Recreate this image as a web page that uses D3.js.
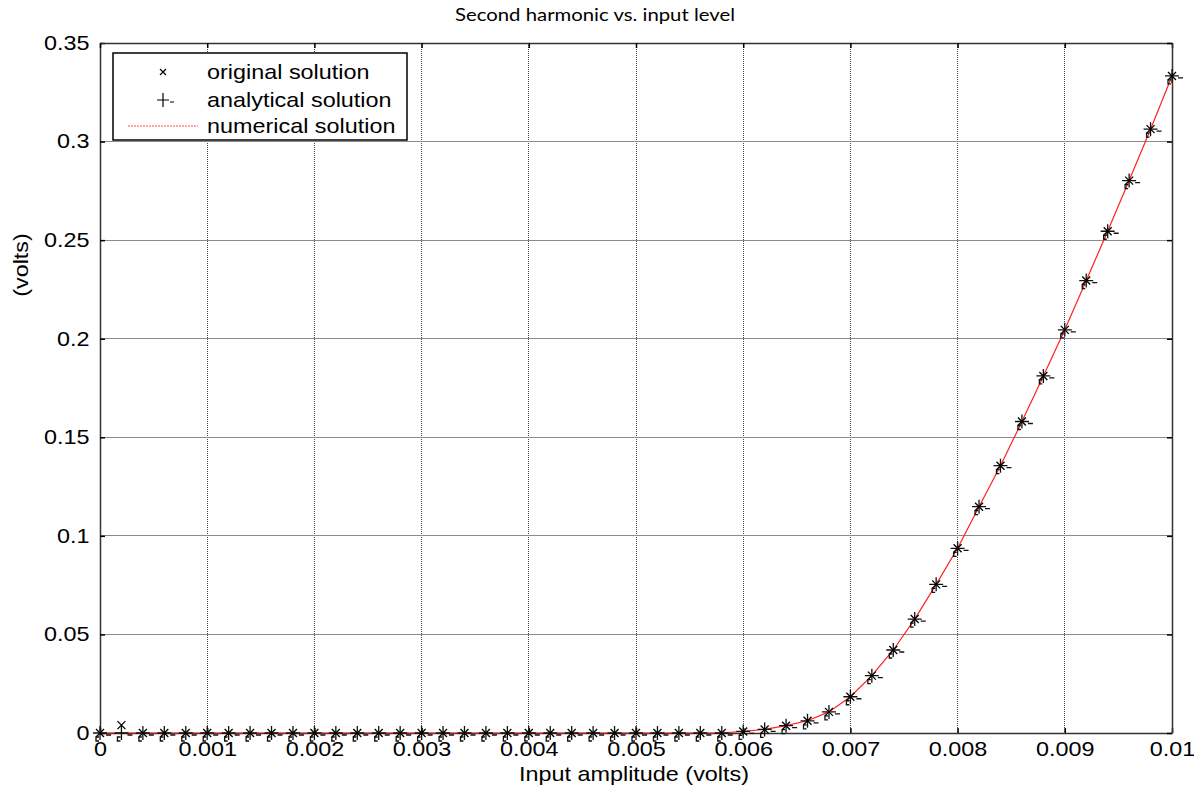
<!DOCTYPE html>
<html>
<head>
<meta charset="utf-8">
<script src="https://cdn.jsdelivr.net/npm/d3@7"></script>
<style>
  body { margin: 0; background: #fff; }
  svg { display: block; }
</style>
</head>
<body>
<svg id="chart" width="1194" height="788"></svg>
<script>
// ---- data ----
const inputAmplitude = [
  0, 0.0002, 0.0004, 0.0006, 0.0008, 0.001, 0.0012, 0.0014, 0.0016, 0.0018,
  0.002, 0.0022, 0.0024, 0.0026, 0.0028, 0.003, 0.0032, 0.0034, 0.0036, 0.0038,
  0.004, 0.0042, 0.0044, 0.0046, 0.0048, 0.005, 0.0052, 0.0054, 0.0056, 0.0058,
  0.006, 0.0062, 0.0064, 0.0066, 0.0068, 0.007, 0.0072, 0.0074, 0.0076, 0.0078,
  0.008, 0.0082, 0.0084, 0.0086, 0.0088, 0.009, 0.0092, 0.0094, 0.0096, 0.0098, 0.01
];
const analyticalSolution = [
  0, 0, 0, 0, 0, 0, 0, 0, 0, 0,
  0, 0, 0, 0, 0, 0, 0, 0, 0, 0,
  0, 0, 0, 0, 0, 0, 0, 0, 0, 0,
  0.0008, 0.0018, 0.0037, 0.0062, 0.0107, 0.0184, 0.0291, 0.0421, 0.0578, 0.0754,
  0.0937, 0.1148, 0.1356, 0.158, 0.1811, 0.2045, 0.2295, 0.2545, 0.2802, 0.3063, 0.3333
];
const originalSolution = [
  0, 0.004, 0, 0, 0, 0, 0, 0, 0, 0,
  0, 0, 0, 0, 0, 0, 0, 0, 0, 0,
  0, 0, 0, 0, 0, 0, 0, 0, 0, 0,
  0.0008, 0.0018, 0.0037, 0.0062, 0.0107, 0.0184, 0.0291, 0.0421, 0.0578, 0.0754,
  0.0937, 0.1148, 0.1356, 0.158, 0.1811, 0.2045, 0.2295, 0.2545, 0.2802, 0.3063, 0.3333
];
const numericalSolution = [
  0, 0, 0, 0, 0, 0, 0, 0, 0, 0,
  0, 0, 0, 0, 0, 0, 0, 0, 0, 0,
  0, 0, 0, 0, 0, 0, 0, 0, 0, 0,
  0.0008, 0.0018, 0.0037, 0.0062, 0.0107, 0.0184, 0.0291, 0.0421, 0.0578, 0.0754,
  0.0937, 0.1148, 0.1356, 0.158, 0.1811, 0.2045, 0.2295, 0.2545, 0.2802, 0.3063, 0.3333
];
const xTicks = [0, 0.001, 0.002, 0.003, 0.004, 0.005, 0.006, 0.007, 0.008, 0.009, 0.01];
const xTickLabels = ["0", "0.001", "0.002", "0.003", "0.004", "0.005", "0.006", "0.007", "0.008", "0.009", "0.01"];
const yTicks = [0, 0.05, 0.1, 0.15, 0.2, 0.25, 0.3, 0.35];
const yTickLabels = ["0", "0.05", "0.1", "0.15", "0.2", "0.25", "0.3", "0.35"];
const legendLabels = ["original solution", "analytical solution", "numerical solution"];
const titleText = "Second harmonic vs. input level";
const xLabelText = "Input amplitude (volts)";
const yLabelText = "(volts)";

// ---- layout ----
const svg = d3.select("#chart");
const pLeft = 100, pRight = 1172, pTop = 43, pBottom = 733;
const x = d3.scaleLinear().domain([0, 0.01]).range([pLeft, pRight]);
const y = d3.scaleLinear().domain([0, 0.35]).range([pBottom, pTop]);
const tickFont = "'Liberation Sans', Arial, sans-serif";
const fs = 20, sx = 1.17;

// grid
const g = svg.append("g");
g.selectAll(".vgrid").data(xTicks.slice(1, -1)).enter().append("line")
  .attr("x1", d => x(d)).attr("x2", d => x(d))
  .attr("y1", pTop).attr("y2", pBottom)
  .attr("stroke", "#444").attr("stroke-width", 1).attr("stroke-dasharray", "1,1")
  .attr("shape-rendering", "crispEdges");
g.selectAll(".hgrid").data(yTicks.slice(1, -1)).enter().append("line")
  .attr("x1", pLeft).attr("x2", pRight)
  .attr("y1", d => y(d)).attr("y2", d => y(d))
  .attr("stroke", "#8a8a8a").attr("stroke-width", 1)
  .attr("shape-rendering", "crispEdges");

// axes via d3
const xAxis = d3.axisBottom(x).tickValues(xTicks).tickFormat((d, i) => xTickLabels[i]).tickSizeInner(-5).tickSizeOuter(0).tickPadding(9);
const yAxis = d3.axisLeft(y).tickValues(yTicks).tickFormat((d, i) => yTickLabels[i]).tickSizeInner(-5).tickSizeOuter(0).tickPadding(9);
const xAxisTop = d3.axisTop(x).tickValues(xTicks).tickFormat("").tickSizeInner(-5).tickSizeOuter(0);
const yAxisRight = d3.axisRight(y).tickValues(yTicks).tickFormat("").tickSizeInner(-5).tickSizeOuter(0);

function styleAxis(sel) {
  sel.select(".domain").attr("stroke", "#333").attr("stroke-width", 1.5);
  sel.selectAll(".tick line").attr("stroke", "#000").attr("stroke-width", 1.5);
  sel.selectAll("text").attr("font-family", tickFont).attr("font-size", fs).attr("fill", "#000")
    .attr("transform", `scale(${sx},1)`);
}
svg.append("g").attr("transform", `translate(0,${pBottom})`).call(xAxis).call(styleAxis);
svg.append("g").attr("transform", `translate(${pLeft},0)`).call(yAxis).call(styleAxis);
svg.append("g").attr("transform", `translate(0,${pTop})`).call(xAxisTop).call(styleAxis);
svg.append("g").attr("transform", `translate(${pRight},0)`).call(yAxisRight).call(styleAxis);

// numerical line
const line = d3.line().x((d, i) => x(inputAmplitude[i])).y(d => y(d));
svg.append("path").datum(numericalSolution)
  .attr("d", line).attr("fill", "none")
  .attr("stroke", "#ff2020").attr("stroke-width", 1.2);

// markers
const xMark = "M-4,-4L4,4M-4,4L4,-4";
const plusMark = "M-7,0L7,0M0,-7L0,7M6,2L11,2M-1,4L-4,4L-4,8L-1,8";
svg.append("g").selectAll("path").data(analyticalSolution).enter().append("path")
  .attr("transform", (d, i) => `translate(${x(inputAmplitude[i])},${y(d)})`)
  .attr("d", plusMark).attr("fill", "none").attr("stroke", "#111").attr("stroke-width", 1.3);
svg.append("g").selectAll("path").data(originalSolution).enter().append("path")
  .attr("transform", (d, i) => `translate(${x(inputAmplitude[i])},${y(d)})`)
  .attr("d", xMark).attr("fill", "none").attr("stroke", "#000").attr("stroke-width", 1.3);

// legend
const lg = svg.append("g");
lg.append("rect").attr("x", 113).attr("y", 53).attr("width", 294).attr("height", 87)
  .attr("fill", "#fff").attr("stroke", "#000").attr("stroke-width", 1.5);
const rowsY = [72, 100, 126];
lg.selectAll("text").data(legendLabels).enter().append("text")
  .attr("transform", (d, i) => `translate(207,${rowsY[i]}) scale(${sx},1)`)
  .attr("dy", "0.35em")
  .attr("font-family", tickFont).attr("font-size", fs).text(d => d);
lg.append("path").attr("transform", `translate(163,${rowsY[0]})`).attr("d", "M-3,-3L3,3M-3,3L3,-3")
  .attr("stroke", "#000").attr("stroke-width", 1.2).attr("fill", "none");
lg.append("path").attr("transform", `translate(163,${rowsY[1]})`).attr("d", "M-6,0L6,0M0,-7L0,7M7,2L11,2")
  .attr("stroke", "#000").attr("stroke-width", 1.2).attr("fill", "none");
lg.append("line").attr("x1", 128).attr("x2", 198).attr("y1", rowsY[2]).attr("y2", rowsY[2])
  .attr("stroke", "#ff5050").attr("stroke-width", 1).attr("stroke-dasharray", "2,1");

// titles
svg.append("text").attr("x", 595).attr("y", 21)
  .attr("text-anchor", "middle").attr("font-family", "Lato, 'Open Sans', sans-serif")
  .attr("font-size", 18).attr("textLength", 280).attr("lengthAdjust", "spacingAndGlyphs")
  .text(titleText);
svg.append("text").attr("transform", `translate(634,781) scale(${sx},1)`)
  .attr("text-anchor", "middle").attr("font-family", tickFont).attr("font-size", fs)
  .text(xLabelText);
svg.append("text").attr("transform", `translate(28,265) rotate(-90) scale(${sx},1)`)
  .attr("text-anchor", "middle").attr("font-family", tickFont).attr("font-size", fs)
  .text(yLabelText);
</script>
</body>
</html>
